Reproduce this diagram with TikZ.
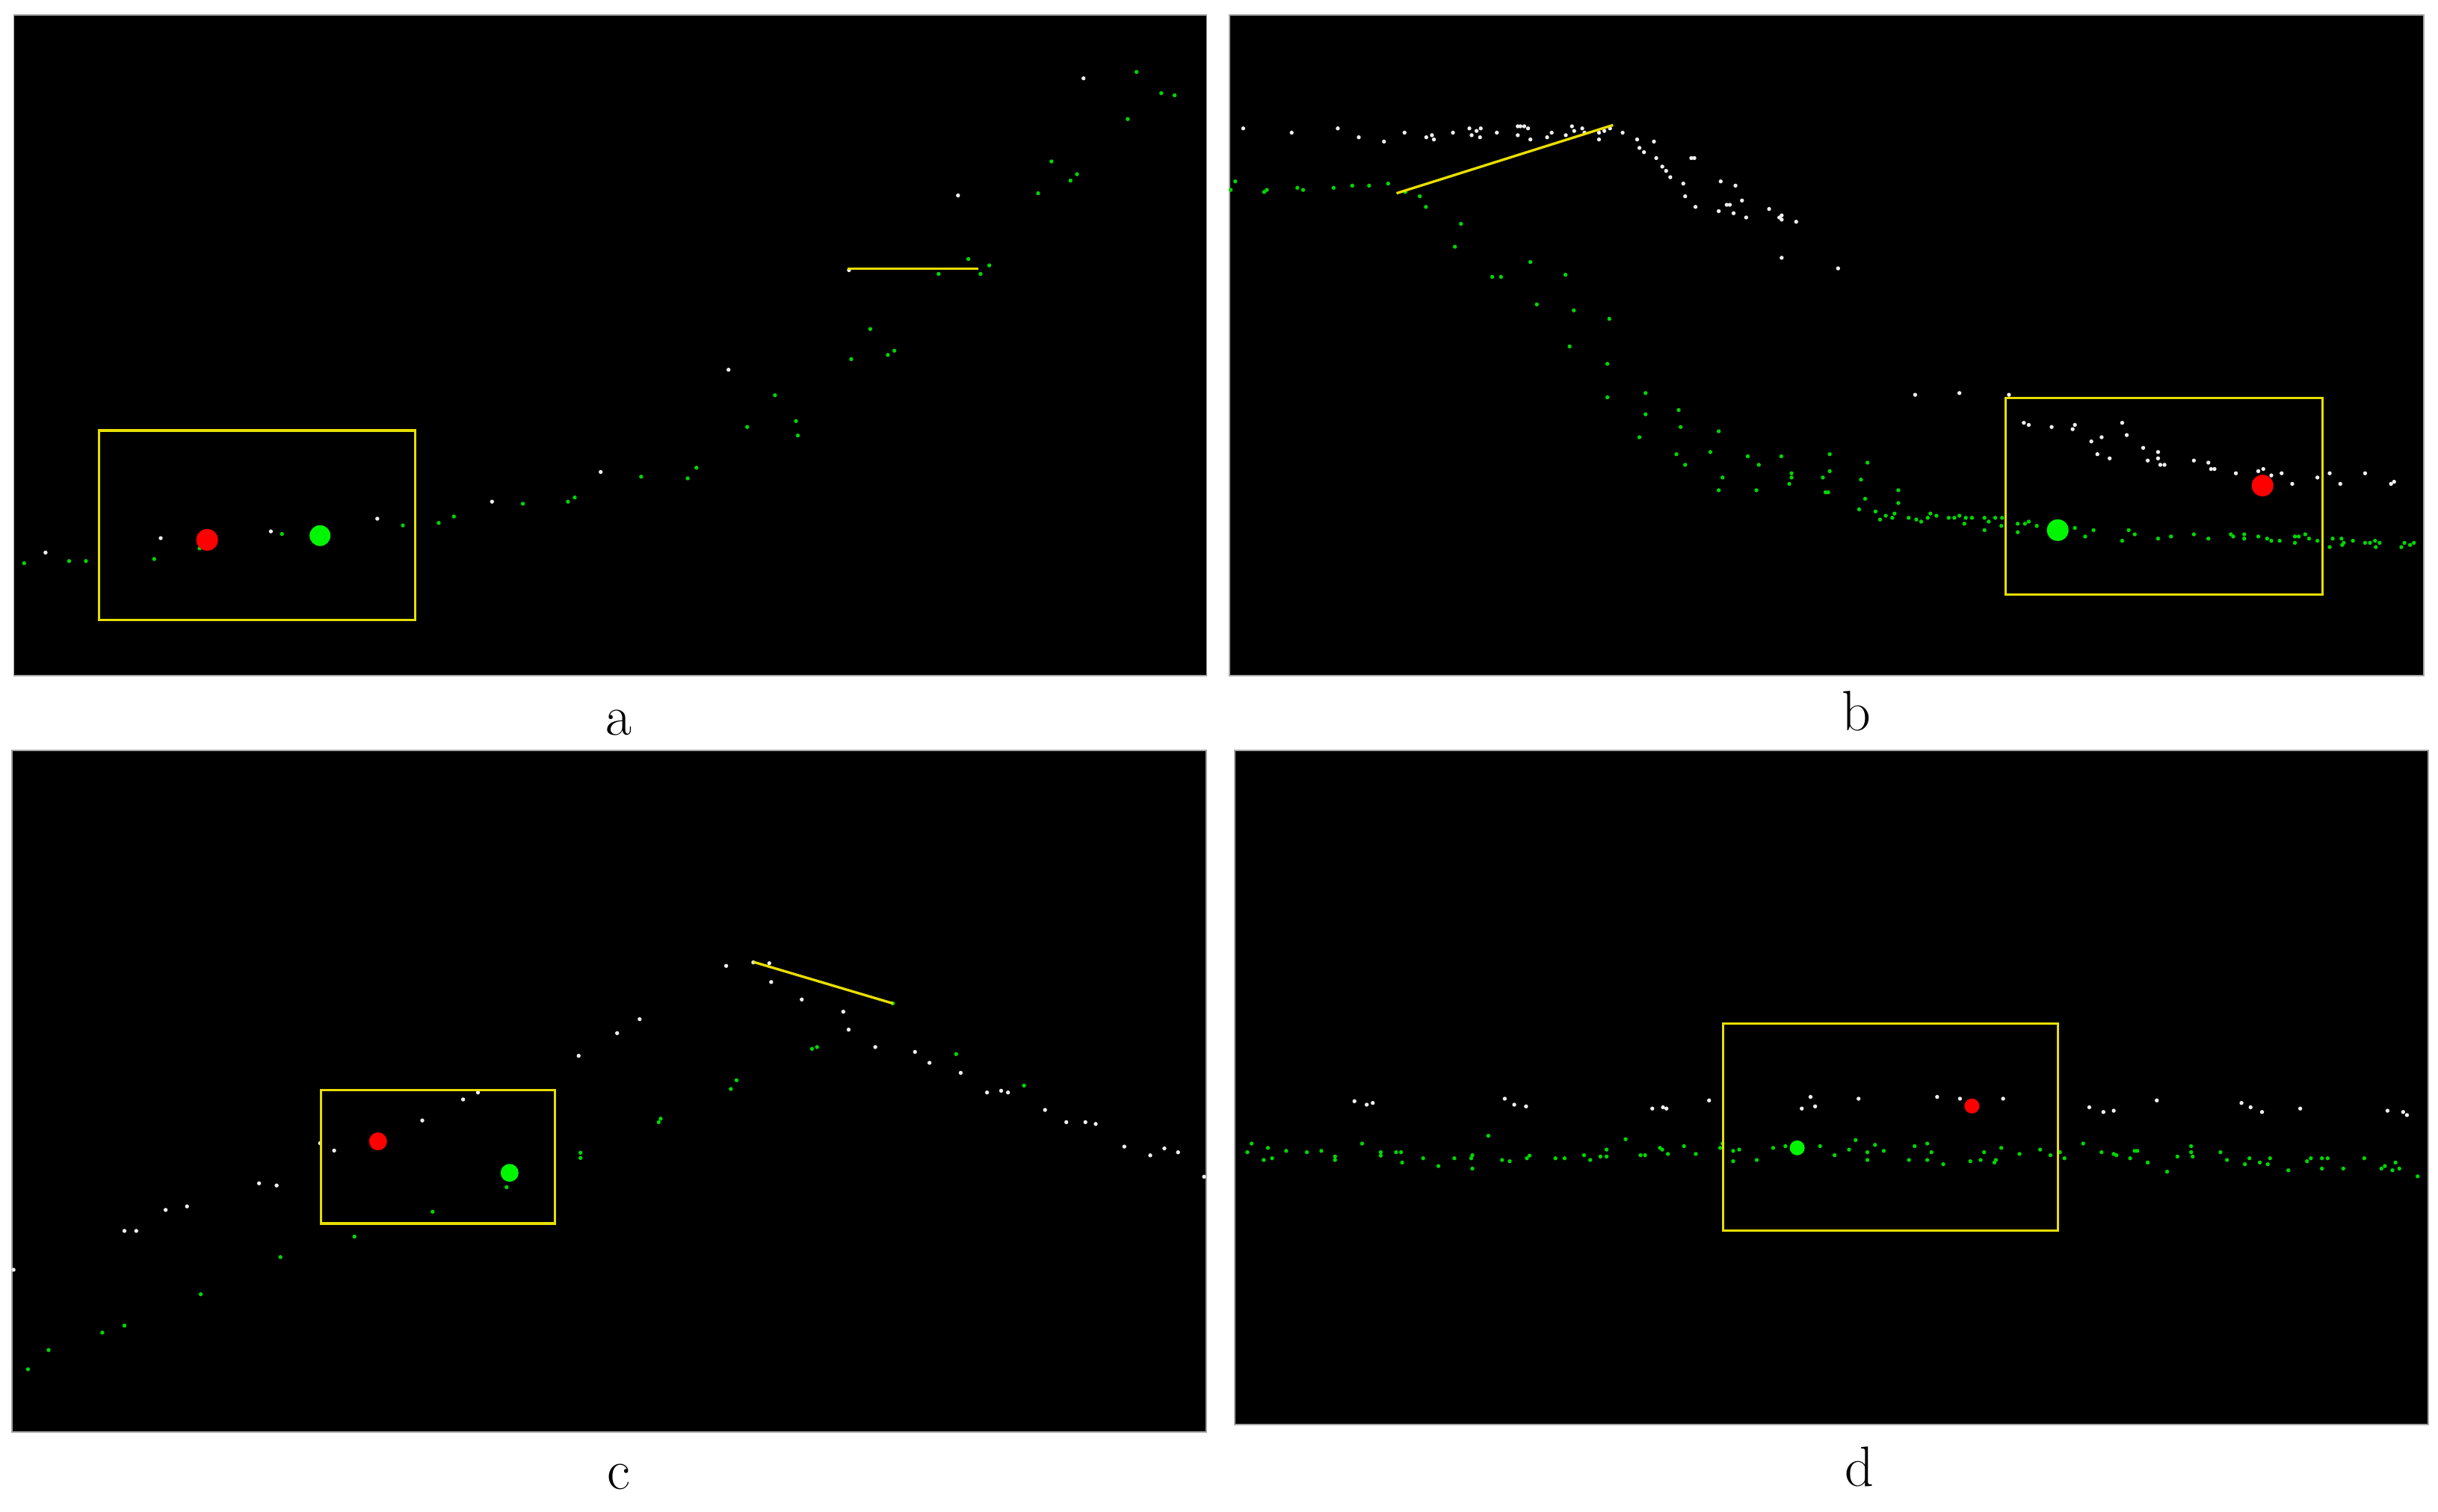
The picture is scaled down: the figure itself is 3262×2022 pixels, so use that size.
\documentclass[tikz,border=0pt]{standalone}
\usepackage{tikz}
\definecolor{ptgreen}{RGB}{0,215,0}
\definecolor{ptwhite}{RGB}{238,238,238}
\definecolor{bigGreen}{RGB}{0,245,0}
\definecolor{bigRed}{RGB}{255,0,0}
\definecolor{boxYellow}{RGB}{232,222,0}
\tikzset{
  panel/.style={fill=black, draw=black!35, line width=0.3pt},
  gpt/.style={fill=ptgreen},
  wpt/.style={fill=ptwhite},
  ybox/.style={draw=boxYellow, line width=0.8pt},
  yline/.style={draw=boxYellow, line width=0.85pt},
  lbl/.style={font=\fontsize{19}{19}\selectfont, anchor=base, inner sep=0pt}
}
\begin{document}
\begin{tikzpicture}[x=0.25pt,y=-0.25pt]
\useasboundingbox[fill=white] (0,0) rectangle (3262,2022);
% panels
\path[panel] (18.5,20) rectangle (1614.5,904);
\path[panel] (1645,20) rectangle (3243,904);
\path[panel] (16,1004) rectangle (1614,1916);
\path[panel] (1652,1004) rectangle (3249,1906);
\def\r{2.7}
% ---------- panel a ----------
\foreach \x/\y in {60.9/739.3,215/720,362.4/711,504.8/694,658.3/671.2,803.7/631.5,974.7/494.7,1135.9/361.4,1281.8/261.5,1449.7/104.8}
  \fill[wpt] (\x,\y) circle[radius=\r];
\foreach \x/\y in {32.3/753.5,92.5/750.7,115/750.7,206.3/747.9,267/733.7,377.2/714.4,539/703,587/699.6,607.3/691,699.6/674,759.9/671.2,769/665.6,
  857.8/637.8,920/640,931.8/625.8,999.7/571.3,1036.9/528.8,1065/563.4,1067.5/582.7,1138.9/480.5,1164.4/440.2,1187.9/474.9,1196.6/469.2,
  1255.8/366.5,1311.9/366.5,1295.6/346.6,1323.6/355.1,1389/258.6,1406.8/216,1432.3/241.6,1441/233.1,1508.8/159.3,1520.6/96.3,1553.7/124.7,1571.6/127.5}
  \fill[gpt] (\x,\y) circle[radius=\r];
\path[yline] (1134.3,359.7) -- (1309.3,359.7);
\path[ybox] (132.3,576) rectangle (555.3,829.6);
\fill[bigRed] (277.2,722.3) circle[radius=14.5];
\fill[bigGreen] (428.2,716.6) circle[radius=14];
% ---------- panel b ----------
\foreach \x/\y in {1663.4/171.8,1728.2/177.5,1789.9/171.8,1818/183.7,1851.7/189.4,1879.2/177.5,1908.3/183.7,1915.9/180.9,1918.5/186.6,1944/177.5,
  1966/171.8,1969/180.9,1975.6/175.2,1980.2/183.7,1981.2/171.8,2002.7/177.5,2030.7/169,2034.3/169,2039.4/169,2044.5/171.8,2030.7/180.9,
  2047.6/186.6,2070/183.7,2076.1/177.5,2095/180.9,2103.2/169,2106.2/175.2,2117/171.8,2120/177.5,2139.4/177.5,2139.4/186.6,2146.5/175.2,
  2154.2/171.8,2171/177.5,2190.4/186.6,2193.5/197.9,2199.6/203.6,2212.9/189.4,2216/211.5,2224.1/222.9,2229.2/228.6,2234.8/237.1,
  2252.2/245.6,2254.7/262.6,2262.9/211.5,2267/211.5,2268.5/276.8,2302.2/242.7,2299.6/282.5,2310.3/274,2314.4/274,2319.5/285.3,
  2322/248.4,2330.7/268.3,2336.3/291,2367/279.6,2380.7/291,2383.8/288.2,2383.8/293.8,2403.2/296.7,2383.8/344.9,
  2459.3/359.1,2562.4/528.2,2621.6/525.9,2687.9/528.2,2707.8/565.7,2714.4/568.5,2745/571.3,2773.1/574.2,2776.1/568.5,2839.4/565.7,
  2845.5/582.1,2798.1/590.6,2811.9/585,2806.2/607.7,2822.6/613.3,2867.5/599.2,2887.4/604.8,2873.6/616.2,2887.4/613.3,2890.4/621.9,
  2896/621.9,2935.3/616.2,2954.7/619,2958.3/627.5,2962.9/627.5,2991.5/633.2,3021.5/630.4,3028.2/627.5,3038.9/636.1,3052.7/633.2,
  3066.9/647.4,3100.6/638.9,3117/633.2,3131.2/647.4,3164.4/633.2,3199.1/647.4,3203.2/644.6}
  \fill[wpt] (\x,\y) circle[radius=\r];
\foreach \x/\y in {1646.6/254.1,1652.7/242.7,1691.4/256.9,1695/254.1,1735.8/251.3,1743.5/254.1,1784.3/251.3,1809.3/248.4,1831.8/248.4,
  1857.3/245.6,1880.2/256.9,1899.6/262.6,1907.8/276.8,1954.7/299.5,1946.6/330.1,2047.6/350.6,1996.5/370.4,2008.3/370.4,2094.5/367.6,
  2056.2/407.3,2105.7/415.3,2153.2/426.6,2100.1/463.5,2150.6/486.8,2150.6/531.6,2201.7/525.9,2201.7/554.3,2246/548.6,2193.5/585,
  2248.6/571.3,2299.6/577,2243/607.7,2254.7/621.9,2288.4/604.8,2338.4/610.5,2383.3/610.5,2353.2/621.9,2304.7/638.9,2299.6/655.9,
  2350.1/655.9,2397/633.2,2397/638.9,2394/647.4,2438.9/638.9,2442.5/658.7,
  2448.1/607.7,2448.1/630.4,2446/658.7,2498.6/619,2489.9/641.7,2495.5/667.3,2487.4/681.5,2539.9/655.9,2539.9/673,2509.3/684.3,
  2515.4/695.1,2523.1/690,2531.8/692.8,2534.8/687.1,2553.7/692.8,2563.9/695.1,2570.5/697.9,2579.2/692.8,2582.8/687.1,2590.9/690,
  2607.3/692.8,2614.9/692.8,2621.6/690,2628.2/700.7,2630.2/692.8,2638.4/692.8,2655.2/692.8,2660.8/697.9,2655.2/709.3,2669.5/692.8,
  2678.7/692.8,2677.7/703.6,2699.6/700.7,2699.6/712.1,2709.3/700.7,2714.4/697.9,2725.1/703.6,2776.1/706.4,2789.9/717.8,2801.1/709.3,
  2839.4/723.5,2848.1/709.3,2856.2/714.9,2887.4/720.6,2904.7/717.8,2935.3/714.9,2954.7/720.6,2984.8/714.9,2987.9/717.8,3002.7/714.9,
  3002.7/720.6,3021.5/717.8,3033.3/720.6,3038.9/723.5,3050.1/723.5,3070.5/717.8,3075.6/717.8,3084.3/714.9,3089.4/720.6,3070.5/726.3,
  3100.6/723.5,3117/732,3121/720.6,3132.8/720.6,3135.8/726.3,3133.8/729.1,3148.1/723.5,3164.4/726.3,3171/726.3,3177.7/723.5,
  3183.8/726.3,3178.7/732,3212.9/732,3217/726.3,3224.6/729.1,3229.7/726.3}
  \fill[gpt] (\x,\y) circle[radius=\r];
\path[yline] (1868.5,258.6) -- (2158.3,167.3);
\path[ybox] (2683.8,532.8) rectangle (3107.3,795.5);
\fill[bigRed] (3027.2,649.7) circle[radius=14.5];
\fill[bigGreen] (2753.2,709.3) circle[radius=14.5];
% ---------- panel c ----------
\foreach \x/\y in {18.1/1698.9,166.5/1646.9,182.3/1646.9,221.6/1618.8,250.2/1614.1,346.6/1583.2,370.1/1586.1,428.3/1529.5,447.1/1539.4,
  565/1499.1,619.6/1471,639.5/1461.7,774.2/1412.6,825.7/1382.3,855.8/1363.6,971.6/1292.3,1007.9/1287.6,1029.3/1288.8,1031.8/1313.9,
  1072.7/1337.3,1128.3/1353.6,1135.4/1377.6,1171.1/1400.9,1224.2/1407.4,1243.6/1422,1285.4/1435.4,1320.6/1461.7,1339.5/1459.4,
  1348.7/1461.7,1398.2/1485,1426.7/1501.4,1452.2/1501.4,1466/1503.8,1504.3/1534.1,1539/1545.8,1557.9/1536.5,1576.2/1541.7,1611/1574.4}
  \fill[wpt] (\x,\y) circle[radius=\r];
\foreach \x/\y in {37.4/1832,65/1806.3,136.9/1782.9,166.5/1773.6,268.6/1731.6,375.2/1681.9,474.2/1654.5,578.8/1621.2,677.8/1588.4,
  776.7/1542.3,776.7/1549.3,881.3/1501.4,883.9/1496.7,977.8/1457,985.4/1445.3,1086.4/1403.3,1093.1/1400.9,1194.6/1342.5,1279.3/1410.3,1370.1/1452.4}
  \fill[gpt] (\x,\y) circle[radius=\r];
\path[yline] (1007.9,1287) -- (1194.6,1342.5);
\path[ybox] (429.3,1458.2) rectangle (742.6,1637);
\fill[bigRed] (505.8,1527.1) circle[radius=12];
\fill[bigGreen] (681.8,1569.2) circle[radius=12];
% ---------- panel d ----------
\foreach \x/\y in {1812.2/1473.4,1828.6/1478,1836.7/1475.7,2013.3/1470,2026/1478,2041.8/1480.3,2210.7/1483.2,2225/1481.5,2229.6/1483.2,
  2286.7/1472.3,2410.7/1483.2,2422.4/1467.6,2428.6/1480.3,2486.7/1470,2591.8/1467.6,2622.4/1470,2680.1/1470,2795.4/1481.5,2814.3/1487.8,
  2828.1/1486.1,2885.7/1472.3,2999/1475.7,3011.2/1481.5,3026.5/1487.8,3077.6/1483.2,3194.4/1486.1,3215.3/1487.8,3220.4/1491.9}
  \fill[wpt] (\x,\y) circle[radius=\r];
\foreach \x/\y in {1668.9/1541.6,1674.5/1530,1690.8/1552,1696.4/1535.8,1702/1549.7,1720.9/1539.8,1748.5/1541.6,1767.9/1539.8,1786.2/1547.4,
  1786.2/1552,1822.4/1530,1847.4/1541.6,1847.4/1546.2,1867.9/1541.6,1874.5/1541.6,1876/1555.4,1904.1/1549.7,1924.5/1560.1,1945.9/1549.7,
  1968.4/1549.7,1969.9/1545.6,1969.9/1563.5,1991.3/1519.6,2009.7/1552,2019.9/1553.7,2042.9/1549.7,2046.4/1546.2,2081.1/1549.7,2093.4/1549.7,
  2119.4/1545.6,2127.6/1552,2141.3/1547.4,2149.5/1547.4,2149.5/1538.1,2175/1524.2,2194.9/1545.6,2201/1545.6,2220.9/1535.8,2224/1538.1,
  2231.6/1543.9,2253.1/1533.5,2268.9/1543.9,2301.5/1535.8,2304.6/1530,2318.9/1539.8,2327/1538.1,2318.9/1553.7,2350.5/1552,2372.4/1535.8,
  2388.8/1533.5,2435.2/1533.5,2454.6/1545.6,2474/1538.1,2482.7/1525.4,2498.5/1541.6,2498.5/1552,2508.7/1531.8,2520.4/1539.8,2554.1/1552,
  2561.7/1533.5,2578.6/1530,2584.2/1541.6,2578.6/1552,2600/1557.7,2636.2/1553.7,2650/1552,2654.6/1541.6,2668.4/1555.4,2670.4/1552,
  2677.6/1535.8,2702/1543.9,2729.6/1538.1,2743.4/1545.6,2756.1/1541.6,2762.2/1549.7,2787.2/1530,2811.7/1541.6,2828.1/1543.9,2831.6/1545.6,
  2850/1549.7,2856.1/1539.8,2859.7/1539.8,2873.5/1555.4,2899.5/1567.6,2913.3/1547.4,2931.6/1533.5,2931.6/1541.6,2933.7/1547.4,2970.9/1541.6,
  2979.6/1552,3003.6/1557.7,3009.7/1549.7,3023.5/1555.4,3034.2/1557.7,3037.2/1549.7,3061.7/1565.8,3086.7/1553.7,3091.8/1549.7,3106.6/1549.7,
  3114.3/1549.7,3106.6/1563.5,3135.2/1563.5,3163.3/1549.7,3186.2/1563.5,3190.8/1560.1,3205.1/1555.4,3201/1565.8,3210.2/1563.5,3234.7/1573.9}
  \fill[gpt] (\x,\y) circle[radius=\r];
\path[ybox] (2305.6,1369.4) rectangle (2753.6,1646.7);
\fill[bigRed] (2638.3,1479.8) circle[radius=10];
\fill[bigGreen] (2404.6,1535.8) circle[radius=10];
% ---------- labels ----------
\node[lbl] (la) at (828,983) {a};
\node[lbl] (lb) at (2484,977) {b};
\node[lbl] (lc) at (828,1992) {c};
\node[lbl] (ld) at (2488,1988) {d};
\end{tikzpicture}
\end{document}
